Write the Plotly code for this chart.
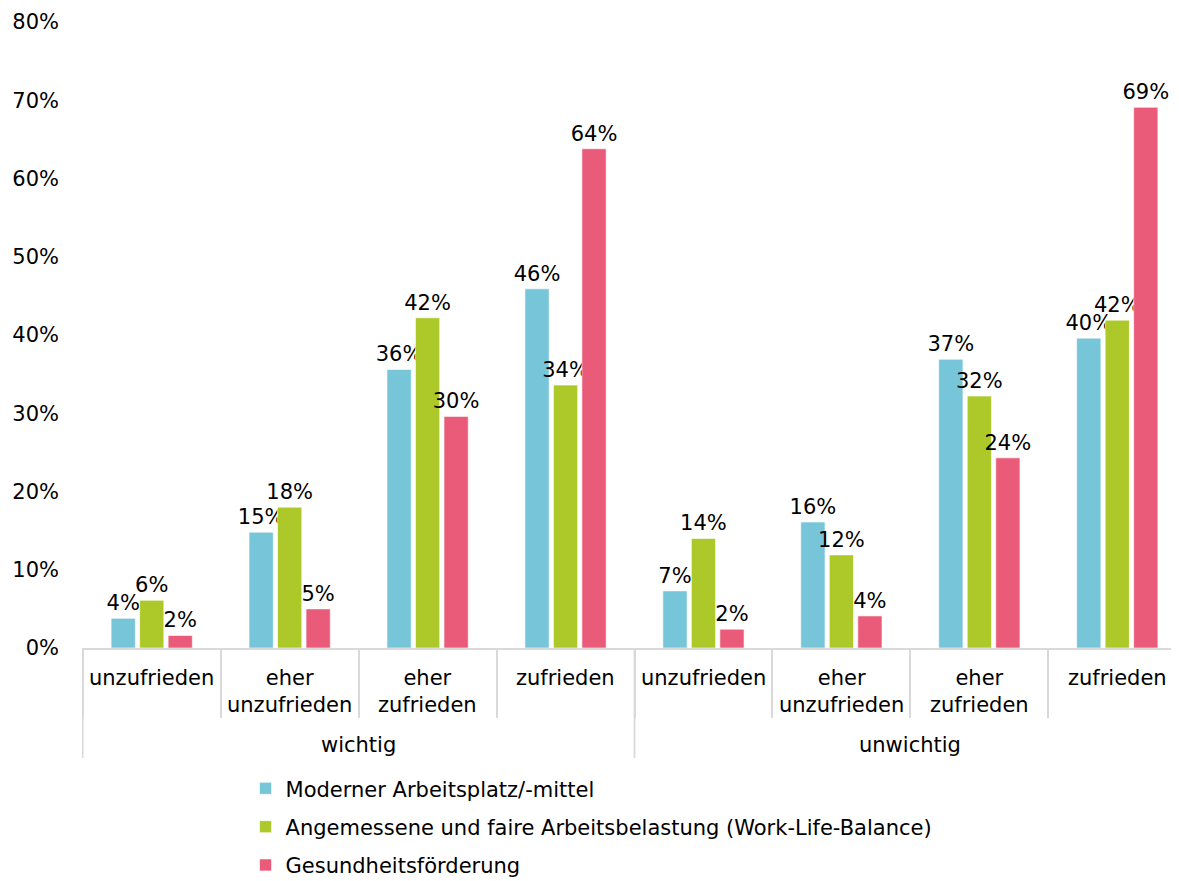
import plotly.graph_objects as go

groups = ["wichtig"] * 4 + ["unwichtig"] * 4
subcats = ["unzufrieden", "eher<br>unzufrieden", "eher<br>zufrieden", "zufrieden"] * 2
categories = [f"{g}|{s}" for g, s in zip(groups, subcats)]

series_names = [
    "Moderner Arbeitsplatz/-mittel",
    "Angemessene und faire Arbeitsbelastung (Work-Life-Balance)",
    "Gesundheitsförderung",
]
modern = [3.8, 14.8, 35.6, 45.9, 7.3, 16.1, 36.9, 39.6]
balance = [6.1, 18.0, 42.2, 33.6, 14.0, 11.9, 32.2, 41.9]
health = [1.6, 5.0, 29.6, 63.8, 2.4, 4.1, 24.3, 69.1]
colors = ["#76C5D8", "#ADC929", "#EA5B7A"]

font_family = "DejaVu Sans"
fs = 21
grid_col = "#D9D9D9"

fig = go.Figure()
for i, (name, vals, col) in enumerate(zip(series_names, [modern, balance, health], colors)):
    fig.add_trace(go.Bar(
        x=categories,
        y=[v / 100 for v in vals],
        name=name,
        legendgroup=f"g{i}",
        marker=dict(color=col, line=dict(color="rgba(255,255,255,0.6)", width=1)),
        text=[f"{round(v):d}%" for v in vals],
        textposition="outside",
        constraintext="none",
        textfont=dict(size=fs, color="#000000", family=font_family),
        cliponaxis=False,
    ))

# category labels (first level) as annotations below the axis
for cat, sub in zip(categories, subcats):
    fig.add_annotation(
        x=cat, xref="x", y=0, yref="paper", yanchor="top", yshift=-16,
        text=sub, showarrow=False, align="center",
        font=dict(size=fs, family=font_family, color="#000000"),
    )

# group labels (second level) and group dividers
group_names = list(dict.fromkeys(groups))
for gname in group_names:
    idx = [k for k, g in enumerate(groups) if g == gname]
    fig.add_annotation(
        x=(idx[0] + idx[-1]) / 2, xref="x", y=0, yref="paper", yanchor="middle", yshift=-97,
        text=gname, showarrow=False,
        font=dict(size=fs, family=font_family, color="#000000"),
    )
    for edge in (idx[0] - 0.5, idx[-1] + 0.5):
        fig.add_shape(
            type="line", xref="x", yref="paper", x0=edge, x1=edge, y0=0, y1=-110 / 626,
            line=dict(color=grid_col, width=1.5),
        )

fig.update_layout(
    width=1179, height=890,
    margin=dict(l=74, r=0, t=14, b=250),
    paper_bgcolor="white", plot_bgcolor="white",
    font=dict(family=font_family, size=fs, color="#000000"),
    barmode="group",
    bargap=0.38,
    bargroupgap=0.15,
    showlegend=True,
    legend=dict(
        x=0.148, y=-0.192, xanchor="left", yanchor="top",
        orientation="v", tracegroupgap=8,
        font=dict(size=fs, family=font_family, color="#000000"),
        itemwidth=30,
    ),
    yaxis=dict(
        range=[0, 0.8], dtick=0.1, tickformat=".0%",
        showgrid=False, zeroline=False, showline=False,
        ticks="", ticklabelstandoff=22, automargin=False,
    ),
    xaxis=dict(
        type="category",
        showline=True, linecolor=grid_col, linewidth=1.5,
        ticks="outside", tickson="boundaries", ticklen=68, tickcolor=grid_col, tickwidth=1.5,
        showticklabels=False, showgrid=False, automargin=False,
    ),
)

fig.write_html("out.html")
